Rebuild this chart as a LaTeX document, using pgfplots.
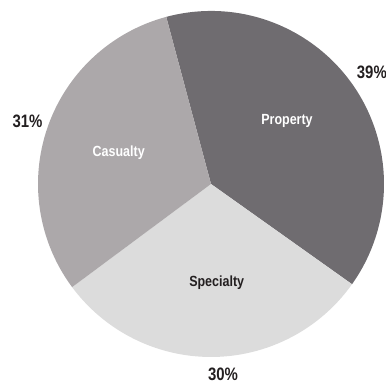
\documentclass[border=0pt]{standalone}
\usepackage{pgfplots}
\pgfplotsset{compat=1.18}
\usepackage{fontspec}
\setmainfont{Liberation Sans}
\definecolor{propc}{HTML}{6F6C70}
\definecolor{casc}{HTML}{ACA8AA}
\definecolor{specc}{HTML}{DCDCDC}
\definecolor{txt}{HTML}{231F20}
\newcommand{\lab}[1]{\scalebox{0.85}[1]{\fontsize{14.7bp}{16bp}\selectfont\bfseries #1}}
\newcommand{\pct}[1]{\scalebox{0.83}[1]{\fontsize{18bp}{20bp}\selectfont\bfseries #1}}
% shares (percent), starting angle 105 deg, clockwise
\def\vProp{39}
\def\vSpec{30}
\def\vCas{31}
\begin{document}
\begin{tikzpicture}
\begin{axis}[
  width=386bp, height=383bp, scale only axis,
  xmin=0, xmax=386, ymin=0, ymax=383,
  hide axis, clip=true]
\fill[propc] (axis cs:211,199) -- ++(105:173bp) arc[start angle=105, delta angle=-3.6*\vProp, radius=173bp] -- cycle;
\fill[specc] (axis cs:211,199) -- ++({105-3.6*\vProp}:173bp) arc[start angle={105-3.6*\vProp}, delta angle=-3.6*\vSpec, radius=173bp] -- cycle;
\fill[casc] (axis cs:211,199) -- ++({105-3.6*(\vProp+\vSpec)}:173bp) arc[start angle={105-3.6*(\vProp+\vSpec)}, delta angle=-3.6*\vCas, radius=173bp] -- cycle;
\node[anchor=base, text=white, inner sep=0pt] at (axis cs:287,258) {\lab{Property}};
\node[anchor=base, text=white, inner sep=0pt] at (axis cs:118.7,226) {\lab{Casualty}};
\node[anchor=base, text=txt, inner sep=0pt] at (axis cs:216.7,96.3) {\lab{Specialty}};
\node[anchor=base west, text=txt, inner sep=0pt] at (axis cs:356.7,304.7) {\pct{39\%}};
\node[anchor=base, text=txt, inner sep=0pt] at (axis cs:27.5,255.3) {\pct{31\%}};
\node[anchor=base, text=txt, inner sep=0pt] at (axis cs:223,3) {\pct{30\%}};
\end{axis}
\useasboundingbox (0,0) rectangle (386bp,383bp);
\end{tikzpicture}
\end{document}
